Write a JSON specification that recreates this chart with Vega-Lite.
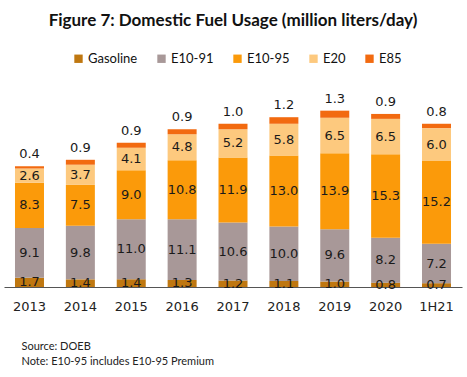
{
  "$schema": "https://vega.github.io/schema/vega-lite/v6.json",
  "width": 458,
  "height": 202,
  "autosize": {"type": "none"},
  "padding": {"left": 4, "top": 85, "right": 5, "bottom": 90},
  "background": "white",
  "title": {
    "text": "Figure 7: Domestic Fuel Usage (million liters/day)",
    "font": "Lato",
    "fontSize": 17,
    "fontWeight": "bold",
    "color": "#111111",
    "anchor": "middle",
    "offset": 22
  },
  "config": {
    "view": {"stroke": null},
    "axis": {"grid": false}
  },
  "data": {
    "values": [
      {"year": "2013", "fuel": "Gasoline", "v": 1.7},
      {"year": "2013", "fuel": "E10-91", "v": 9.1},
      {"year": "2013", "fuel": "E10-95", "v": 8.3},
      {"year": "2013", "fuel": "E20", "v": 2.6},
      {"year": "2013", "fuel": "E85", "v": 0.4},
      {"year": "2014", "fuel": "Gasoline", "v": 1.4},
      {"year": "2014", "fuel": "E10-91", "v": 9.8},
      {"year": "2014", "fuel": "E10-95", "v": 7.5},
      {"year": "2014", "fuel": "E20", "v": 3.7},
      {"year": "2014", "fuel": "E85", "v": 0.9},
      {"year": "2015", "fuel": "Gasoline", "v": 1.4},
      {"year": "2015", "fuel": "E10-91", "v": 11.0},
      {"year": "2015", "fuel": "E10-95", "v": 9.0},
      {"year": "2015", "fuel": "E20", "v": 4.1},
      {"year": "2015", "fuel": "E85", "v": 0.9},
      {"year": "2016", "fuel": "Gasoline", "v": 1.3},
      {"year": "2016", "fuel": "E10-91", "v": 11.1},
      {"year": "2016", "fuel": "E10-95", "v": 10.8},
      {"year": "2016", "fuel": "E20", "v": 4.8},
      {"year": "2016", "fuel": "E85", "v": 0.9},
      {"year": "2017", "fuel": "Gasoline", "v": 1.2},
      {"year": "2017", "fuel": "E10-91", "v": 10.6},
      {"year": "2017", "fuel": "E10-95", "v": 11.9},
      {"year": "2017", "fuel": "E20", "v": 5.2},
      {"year": "2017", "fuel": "E85", "v": 1.0},
      {"year": "2018", "fuel": "Gasoline", "v": 1.1},
      {"year": "2018", "fuel": "E10-91", "v": 10.0},
      {"year": "2018", "fuel": "E10-95", "v": 13.0},
      {"year": "2018", "fuel": "E20", "v": 5.8},
      {"year": "2018", "fuel": "E85", "v": 1.2},
      {"year": "2019", "fuel": "Gasoline", "v": 1.0},
      {"year": "2019", "fuel": "E10-91", "v": 9.6},
      {"year": "2019", "fuel": "E10-95", "v": 13.9},
      {"year": "2019", "fuel": "E20", "v": 6.5},
      {"year": "2019", "fuel": "E85", "v": 1.3},
      {"year": "2020", "fuel": "Gasoline", "v": 0.8},
      {"year": "2020", "fuel": "E10-91", "v": 8.2},
      {"year": "2020", "fuel": "E10-95", "v": 15.3},
      {"year": "2020", "fuel": "E20", "v": 6.5},
      {"year": "2020", "fuel": "E85", "v": 0.9},
      {"year": "1H21", "fuel": "Gasoline", "v": 0.7},
      {"year": "1H21", "fuel": "E10-91", "v": 7.2},
      {"year": "1H21", "fuel": "E10-95", "v": 15.2},
      {"year": "1H21", "fuel": "E20", "v": 6.0},
      {"year": "1H21", "fuel": "E85", "v": 0.8}
    ]
  },
  "transform": [
    {"calculate": "indexof(['Gasoline','E10-91','E10-95','E20','E85'], datum.fuel)", "as": "stackOrder"}
  ],
  "encoding": {
    "x": {
      "field": "year",
      "type": "nominal",
      "sort": null,
      "scale": {"paddingInner": 0.43, "paddingOuter": 0.216},
      "axis": {
        "labelAngle": 0,
        "labelFont": "DejaVu Sans",
        "labelFontSize": 13,
        "labelColor": "#222222",
        "labelPadding": 13,
        "ticks": false,
        "domainColor": "#555555",
        "domainWidth": 1,
        "title": ["Source: DOEB", "Note: E10-95 includes E10-95 Premium"],
        "titleFont": "Lato",
        "titleFontSize": 11,
        "titleFontWeight": "normal",
        "titleColor": "#222222",
        "titleAnchor": "start",
        "titleAlign": "left",
        "titleBaseline": "top",
        "titleX": 17,
        "titleY": 53,
        "titleLineHeight": 15
      }
    },
    "y": {
      "field": "v",
      "type": "quantitative",
      "stack": "zero",
      "scale": {"domain": [0, 37], "nice": false},
      "axis": null
    },
    "order": {"field": "stackOrder", "type": "quantitative", "sort": "ascending"}
  },
  "layer": [
    {
      "mark": {"type": "bar"},
      "encoding": {
        "color": {
          "field": "fuel",
          "type": "nominal",
          "sort": ["Gasoline", "E10-91", "E10-95", "E20", "E85"],
          "scale": {
            "domain": ["Gasoline", "E10-91", "E10-95", "E20", "E85"],
            "range": ["#BF7710", "#A89898", "#FB9A0A", "#FDC97E", "#F26A10"]
          },
          "legend": {
            "title": null,
            "orient": "none",
            "direction": "horizontal",
            "legendX": 68,
            "legendY": -33,
            "symbolType": "square",
            "symbolSize": 70,
            "symbolStrokeWidth": 0,
            "labelFont": "Lato",
            "labelFontSize": 13,
            "labelColor": "#111111",
            "labelOffset": 3,
            "columnPadding": 17
          }
        }
      }
    },
    {
      "mark": {"type": "text", "font": "DejaVu Sans", "fontSize": 13, "color": "#1a1a1a", "baseline": "middle"},
      "encoding": {
        "y": {"field": "v", "type": "quantitative", "stack": "zero", "bandPosition": 0.5},
        "detail": {"field": "fuel", "type": "nominal"},
        "text": {"condition": {"test": "datum.fuel != 'E85'", "field": "v", "format": ".1f"}, "value": ""}
      }
    },
    {
      "mark": {"type": "text", "font": "DejaVu Sans", "fontSize": 13, "color": "#1a1a1a", "baseline": "bottom", "dy": -5},
      "encoding": {
        "detail": {"field": "fuel", "type": "nominal"},
        "text": {"condition": {"test": "datum.fuel == 'E85'", "field": "v", "format": ".1f"}, "value": ""}
      }
    }
  ]
}
